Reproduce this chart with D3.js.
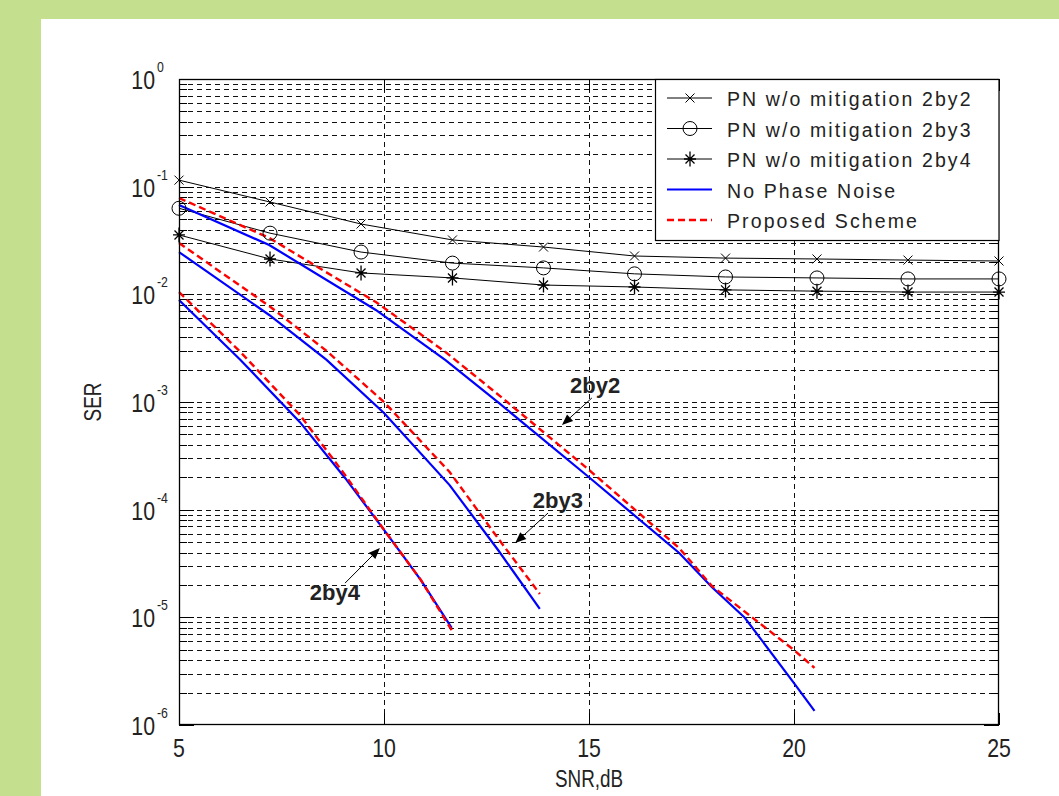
<!DOCTYPE html>
<html><head><meta charset="utf-8">
<script src="https://cdn.jsdelivr.net/npm/d3@7"></script>
<style>body{margin:0;overflow:hidden;background:#fff;} svg{display:block;}</style>
</head><body>
<script>
// ---------- data ----------
const snrPN   = [5, 7.22, 9.44, 11.67, 13.89, 16.11, 18.33, 20.56, 22.78, 25];
const pn2by2  = [0.115, 0.072, 0.045, 0.032, 0.0275, 0.0227, 0.0217, 0.0213, 0.0208, 0.0204];
const pn2by3  = [0.063, 0.037, 0.0247, 0.0195, 0.0176, 0.0155, 0.0145, 0.0142, 0.0139, 0.0139];
const pn2by4  = [0.0356, 0.0213, 0.0158, 0.0142, 0.0122, 0.0117, 0.0110, 0.0107, 0.0105, 0.0105];

const snrNo2by2   = [5, 7.2, 9.8, 11.5, 12.8, 15, 17.2, 18, 18.8, 20, 20.5];
const noPN2by2    = [0.0676, 0.0287, 0.00716, 0.00245, 9.8e-4, 2.0e-4, 3.96e-5, 1.9e-5, 9.9e-6, 2.45e-6, 1.35e-6];
const snrProp2by2 = [5, 7.2, 9.8, 11.5, 12.8, 15, 17.2, 18, 20, 20.5];
const prop2by2    = [0.0785, 0.0334, 0.00849, 0.00291, 1.16e-3, 2.34e-4, 4.4e-5, 1.95e-5, 4.97e-6, 3.39e-6];

const snr2by3   = [5, 7.2, 8.6, 10, 11.6, 12.8, 13.8];
const noPN2by3  = [0.0247, 6.43e-3, 2.46e-3, 7.9e-4, 1.69e-4, 4.13e-5, 1.2e-5];
const prop2by3  = [0.030, 7.8e-3, 2.98e-3, 1.0e-3, 2.24e-4, 5.3e-5, 1.65e-5];

const snr2by4   = [5, 6.5, 7.95, 9.05, 10, 10.9, 11.65];
const noPN2by4  = [8.86e-3, 2.46e-3, 6.5e-4, 1.97e-4, 6.5e-5, 2.22e-5, 7.97e-6];
const prop2by4  = [0.0105, 2.91e-3, 7.57e-4, 2.1e-4, 6.5e-5, 2.22e-5, 7.6e-6];

const xTicks   = [5, 10, 15, 20, 25];
const yDecades = [0, -1, -2, -3, -4, -5, -6];
const legendLabels = ["PN w/o mitigation 2by2", "PN w/o mitigation 2by3", "PN w/o mitigation 2by4", "No Phase Noise", "Proposed Scheme"];
const xLabel = "SNR,dB";
const yLabel = "SER";
// annotations in data coordinates: label, text [snr, ser], arrow start, arrow tip
const annLabels = ["2by2", "2by3", "2by4"];
const annText   = [[15.15, 1.21e-3], [14.24, 1.04e-4], [8.8, 1.45e-5]];
const annFrom   = [[15.07, 1.09e-3], [14.0, 9.3e-5], [9.05, 2.08e-5]];
const annTo     = [[14.34, 6.1e-4], [13.2, 4.9e-5], [9.9, 4.4e-5]];

// ---------- layout ----------
const W = 1059, H = 796;
const m = {left: 179, top: 79, right: 999, bottom: 725};
const x = d3.scaleLinear().domain([5, 25]).range([m.left, m.right]);
const y = d3.scaleLog().domain([1e-6, 1]).range([m.bottom, m.top]);

const svg = d3.select("body").append("svg").attr("width", W).attr("height", H);
svg.append("rect").attr("width", W).attr("height", H).attr("fill", "#c4df8e");
svg.append("rect").attr("x", 41).attr("y", 19).attr("width", W - 41).attr("height", H - 19).attr("fill", "#fff");

const font = "'Liberation Sans', Arial, sans-serif";

// grid
const grid = svg.append("g").attr("stroke", "#111").attr("stroke-width", 1)
  .attr("stroke-dasharray", "5,4").attr("shape-rendering", "crispEdges");
const yAll = y.ticks().filter(v => v > 1.5e-6 && v < 0.99);
grid.selectAll("line.h").data(yAll).join("line")
  .attr("x1", m.left).attr("x2", m.right)
  .attr("y1", d => Math.round(y(d)) + 0.5).attr("y2", d => Math.round(y(d)) + 0.5);
grid.selectAll("line.v").data(xTicks.filter(v => v > 5 && v < 25)).join("line")
  .attr("y1", m.top).attr("y2", m.bottom)
  .attr("x1", d => Math.round(x(d)) + 0.5).attr("x2", d => Math.round(x(d)) + 0.5);

// ticks
const ticks = svg.append("g").attr("stroke", "#000").attr("stroke-width", 1).attr("shape-rendering", "crispEdges");
const isDecade = v => Math.abs(Math.log10(v) - Math.round(Math.log10(v))) < 1e-6;
y.ticks().forEach(v => {
  const len = isDecade(v) ? 15 : 8;
  const yy = Math.round(y(v)) + 0.5;
  ticks.append("line").attr("x1", m.left).attr("x2", m.left + len).attr("y1", yy).attr("y2", yy);
  ticks.append("line").attr("x1", m.right - len).attr("x2", m.right).attr("y1", yy).attr("y2", yy);
});
xTicks.forEach(v => {
  const xx = Math.round(x(v)) + 0.5;
  ticks.append("line").attr("x1", xx).attr("x2", xx).attr("y1", m.bottom).attr("y2", m.bottom - 12);
  ticks.append("line").attr("x1", xx).attr("x2", xx).attr("y1", m.top).attr("y2", m.top + 12);
});

// series
const line = (xs) => d3.line().x((d, i) => x(xs[i])).y(d => y(d));
const curves = svg.append("g").attr("fill", "none");
[pn2by2, pn2by3, pn2by4].forEach(s => {
  curves.append("path").attr("d", line(snrPN)(s)).attr("stroke", "#000").attr("stroke-width", 1);
});
[[snrNo2by2, noPN2by2], [snr2by3, noPN2by3], [snr2by4, noPN2by4]].forEach(([xs, s]) => {
  curves.append("path").attr("d", line(xs)(s)).attr("stroke", "#0000ff").attr("stroke-width", 2.2);
});
[[snrProp2by2, prop2by2], [snr2by3, prop2by3], [snr2by4, prop2by4]].forEach(([xs, s]) => {
  curves.append("path").attr("d", line(xs)(s)).attr("stroke", "#ff0000").attr("stroke-width", 2.4)
    .attr("stroke-dasharray", "7,4");
});

// markers
function marker(g, type, cx, cy) {
  const mg = g.append("g").attr("transform", `translate(${cx},${cy})`).attr("stroke", "#000").attr("fill", "none").attr("stroke-width", 1);
  if (type === "x") {
    mg.append("path").attr("d", "M-4.5,-4.5L4.5,4.5M-4.5,4.5L4.5,-4.5");
  } else if (type === "o") {
    mg.append("circle").attr("r", 7);
  } else {
    mg.append("path").attr("d", "M0,-7.5L0,7.5M-6,0L6,0M-4.5,-4.5L4.5,4.5M-4.5,4.5L4.5,-4.5").attr("stroke-width", 1.3);
  }
}
const mk = svg.append("g");
[[pn2by2, "x"], [pn2by3, "o"], [pn2by4, "*"]].forEach(([s, t]) => {
  s.forEach((v, i) => marker(mk, t, x(snrPN[i]), y(v)));
});

// annotations
const ann = svg.append("g");
annLabels.forEach((lab, i) => {
  const x1 = x(annFrom[i][0]), y1 = y(annFrom[i][1]);
  const x2 = x(annTo[i][0]), y2 = y(annTo[i][1]);
  const ang = Math.atan2(y2 - y1, x2 - x1);
  const L = 11, Wd = 4.5;
  const bx = x2 - L * Math.cos(ang), by = y2 - L * Math.sin(ang);
  ann.append("line").attr("x1", x1).attr("y1", y1).attr("x2", bx).attr("y2", by)
    .attr("stroke", "#000").attr("stroke-width", 1);
  const px = -Math.sin(ang) * Wd, py = Math.cos(ang) * Wd;
  ann.append("path").attr("d", `M${x2},${y2}L${bx + px},${by + py}L${bx - px},${by - py}Z`).attr("fill", "#000");
  ann.append("text").attr("x", x(annText[i][0])).attr("y", y(annText[i][1]))
    .attr("text-anchor", "middle").attr("font-family", font).attr("font-weight", "bold")
    .attr("font-size", 22).attr("fill", "#222").text(lab);
});

// axes box
svg.append("rect").attr("x", m.left + 0.5).attr("y", m.top + 0.5)
  .attr("width", m.right - m.left - 1).attr("height", m.bottom - m.top - 1)
  .attr("fill", "none").attr("stroke", "#000").attr("stroke-width", 1.3);

// tick labels
const sx = 0.82;
yDecades.forEach(e => {
  const g = svg.append("g").attr("transform", `translate(155,${y(Math.pow(10, e)) + 10}) scale(${sx},1)`)
    .attr("font-family", font).attr("fill", "#222");
  g.append("text").attr("text-anchor", "end").attr("font-size", 26).text("10");
  g.append("text").attr("x", 2 / sx).attr("y", -17).attr("font-size", 15).text(String(e));
});
xTicks.forEach(v => {
  svg.append("g").attr("transform", `translate(${x(v)},757) scale(${sx},1)`)
    .append("text").attr("text-anchor", "middle").attr("font-family", font)
    .attr("font-size", 26).attr("fill", "#222").text(v);
});
svg.append("g").attr("transform", `translate(${(m.left + m.right) / 2},787) scale(${sx},1)`)
  .append("text").attr("text-anchor", "middle").attr("font-family", font)
  .attr("font-size", 23).attr("fill", "#222").text(xLabel);
svg.append("g").attr("transform", `translate(101,${(m.top + m.bottom) / 2}) rotate(-90) scale(${sx},1)`)
  .append("text").attr("text-anchor", "middle").attr("font-family", font)
  .attr("font-size", 23).attr("fill", "#222").text(yLabel);

// legend
const lg = svg.append("g");
lg.append("rect").attr("x", 655.5).attr("y", m.top + 0.5).attr("width", m.right - 655.5).attr("height", 161)
  .attr("fill", "#fff").attr("stroke", "#000").attr("stroke-width", 1.2);
const rowY = [98, 128.5, 159, 189.5, 220];
const legStyles = [
  {stroke: "#000", w: 1, dash: null, mk: "x"},
  {stroke: "#000", w: 1, dash: null, mk: "o"},
  {stroke: "#000", w: 1, dash: null, mk: "*"},
  {stroke: "#0000ff", w: 2.2, dash: null, mk: null},
  {stroke: "#ff0000", w: 2.4, dash: "7,4", mk: null}
];
legendLabels.forEach((lab, i) => {
  const st = legStyles[i];
  const ln = lg.append("line").attr("x1", 667).attr("x2", 712).attr("y1", rowY[i]).attr("y2", rowY[i])
    .attr("stroke", st.stroke).attr("stroke-width", st.w);
  if (st.dash) ln.attr("stroke-dasharray", st.dash);
  if (st.mk) marker(lg, st.mk, 690, rowY[i]);
  lg.append("text").attr("x", 727).attr("y", rowY[i] + 8).attr("font-family", font)
    .attr("font-size", 19.5).attr("letter-spacing", 2.1).attr("fill", "#222").text(lab);
});
</script>
</body></html>
